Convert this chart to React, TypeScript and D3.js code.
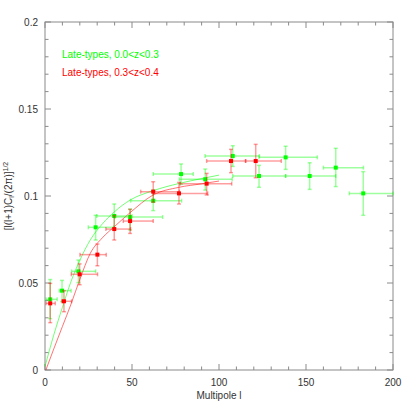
import * as d3 from "d3";
import React from "react";

// late-types 0.0<z<0.3 (green)
const greenL = [3.0, 9.8, 19.2, 29.1, 39.8, 48.9, 62.2, 78.2, 92.1, 107.9, 123, 138.3, 152.1, 167.1, 182.9];
const greenY = [0.0406, 0.0456, 0.0567, 0.082, 0.0885, 0.0879, 0.0973, 0.1126, 0.1096, 0.123, 0.1115, 0.1222, 0.1115, 0.1163, 0.1015];
const greenLLo = [0.6, 8.2, 15.3, 24.9, 29.7, 40.2, 49.2, 62.2, 77.2, 92, 107.9, 123, 138.3, 160, 174.9];
const greenLHi = [7.0, 15, 29.1, 39.5, 50, 67.6, 78.5, 85.2, 107.6, 123.2, 138.3, 156.5, 167.1, 183, 200];
const greenYLo = [0.0295, 0.0393, 0.0502, 0.0747, 0.0814, 0.0805, 0.0916, 0.1067, 0.1034, 0.117, 0.105, 0.1153, 0.1038, 0.1054, 0.0889];
const greenYHi = [0.052, 0.0515, 0.0632, 0.0889, 0.0954, 0.0925, 0.1034, 0.1184, 0.1155, 0.1289, 0.1176, 0.1286, 0.1191, 0.1274, 0.114];

// late-types 0.3<z<0.4 (red)
const redL = [3.0, 10.9, 19.9, 30.1, 39.8, 48.9, 62.2, 77, 92.9, 106.9, 121.1];
const redY = [0.0383, 0.0395, 0.055, 0.0663, 0.081, 0.0856, 0.1025, 0.1015, 0.1071, 0.1201, 0.1201];
const redLLo = [0.6, 9.6, 15.1, 20.1, 35, 45, 55, 62.2, 77.6, 92.9, 115.3];
const redLHi = [5.9, 15.3, 30.2, 35.2, 49.2, 62.2, 77.2, 93.5, 107.3, 115.3, 135.8];
const redYLo = [0.0272, 0.0335, 0.049, 0.0599, 0.0747, 0.0785, 0.0964, 0.0954, 0.1006, 0.1134, 0.1105];
const redYHi = [0.0498, 0.0456, 0.061, 0.0724, 0.0887, 0.0923, 0.1082, 0.1078, 0.113, 0.1268, 0.1297];

// model curves
const greenCurveL = [0, 5, 10, 15, 20, 26, 33, 40, 49, 62, 77, 90, 100];
const greenCurveY = [0.002, 0.02, 0.036, 0.051, 0.063, 0.0747, 0.084, 0.091, 0.0977, 0.103, 0.1072, 0.11, 0.112];
const redCurveL = [0.5, 5, 10, 15, 20, 26, 33, 40, 49, 62, 77, 90, 100];
const redCurveY = [0, 0.012, 0.025, 0.038, 0.052, 0.067, 0.076, 0.0825, 0.0905, 0.1005, 0.105, 0.107, 0.1086];

const xTicks = [0, 50, 100, 150, 200];
const yTicks = [0, 0.05, 0.1, 0.15, 0.2];
const legendLabels = ["Late-types, 0.0<z<0.3", "Late-types, 0.3<z<0.4"];

const W = 415;
const H = 415;
const left = 45, right = 393, top = 22, bottom = 370;
const font = "'Liberation Sans', Arial, sans-serif";
const axisColor = "#8a8a8a";

function Series({ ls, ys, lLo, lHi, yLo, yHi, color, x, y }) {
  const cap = 2;
  return (
    <g>
      {ls.map((l, i) => (
        <g key={i} stroke={color} strokeOpacity={0.38} strokeWidth={1.5}>
          <line x1={x(lLo[i])} x2={x(lHi[i])} y1={y(ys[i])} y2={y(ys[i])} />
          <line x1={x(lLo[i])} x2={x(lLo[i])} y1={y(ys[i]) - cap} y2={y(ys[i]) + cap} />
          <line x1={x(lHi[i])} x2={x(lHi[i])} y1={y(ys[i]) - cap} y2={y(ys[i]) + cap} />
          <line x1={x(l)} x2={x(l)} y1={y(yLo[i])} y2={y(yHi[i])} />
          <line x1={x(l) - cap} x2={x(l) + cap} y1={y(yLo[i])} y2={y(yLo[i])} />
          <line x1={x(l) - cap} x2={x(l) + cap} y1={y(yHi[i])} y2={y(yHi[i])} />
        </g>
      ))}
      {ls.map((l, i) => (
        <rect key={"m" + i} x={x(l) - 2} y={y(ys[i]) - 2} width={4} height={4} fill={color} />
      ))}
    </g>
  );
}

export default function App() {
  const x = d3.scaleLinear().domain([0, 200]).range([left, right]);
  const y = d3.scaleLinear().domain([0, 0.2]).range([bottom, top]);

  const greenPath = d3
    .line<number>()
    .x((d) => x(d))
    .y((d, i) => y(greenCurveY[i]))
    .curve(d3.curveMonotoneX)(greenCurveL);
  const redPath = d3
    .line<number>()
    .x((d) => x(d))
    .y((d, i) => y(redCurveY[i]))
    .curve(d3.curveMonotoneX)(redCurveL);

  const xMinor = d3.range(0, 201, 10);
  const yMinor = d3.range(0, 0.2001, 0.01);

  return (
    <svg width={W} height={H} style={{ position: "absolute", left: 0, top: 0 }}>
      <rect width={W} height={H} fill="#fff" />
      <g stroke={axisColor} strokeWidth={1}>
        <rect x={left} y={top} width={right - left} height={bottom - top} fill="none" />
        {xMinor.map((t) => {
          const len = t % 50 === 0 ? 6 : 3.5;
          return (
            <g key={"x" + t}>
              <line x1={x(t)} x2={x(t)} y1={bottom} y2={bottom - len} />
              <line x1={x(t)} x2={x(t)} y1={top} y2={top + len} />
            </g>
          );
        })}
        {yMinor.map((t, i) => {
          const len = i % 5 === 0 ? 6 : 3.5;
          return (
            <g key={"y" + i}>
              <line x1={left} x2={left + len} y1={y(t)} y2={y(t)} />
              <line x1={right} x2={right - len} y1={y(t)} y2={y(t)} />
            </g>
          );
        })}
      </g>
      <g fontFamily={font} fontSize={10} fill="#333">
        {xTicks.map((t) => (
          <text key={t} x={x(t)} y={bottom + 16} textAnchor="middle">
            {t}
          </text>
        ))}
        {yTicks.map((t) => (
          <text key={t} x={left - 7} y={y(t) + 4} textAnchor="end">
            {String(t)}
          </text>
        ))}
        <text x={(left + right) / 2} y={bottom + 29} textAnchor="middle">
          Multipole l
        </text>
        <text transform={`translate(12,${(top + bottom) / 2}) rotate(-90)`} textAnchor="middle">
          [l(l+1)C
          <tspan fontSize={7} dy={2}>l</tspan>
          <tspan dy={-2}>/(2π)]</tspan>
          <tspan fontSize={7} dy={-4}>1/2</tspan>
        </text>
      </g>
      <path d={greenPath} fill="none" stroke="#00ff00" strokeOpacity={0.55} strokeWidth={1} />
      <path d={redPath} fill="none" stroke="#ff0000" strokeOpacity={0.55} strokeWidth={1} />
      <Series ls={greenL} ys={greenY} lLo={greenLLo} lHi={greenLHi} yLo={greenYLo} yHi={greenYHi} color="#00ff00" x={x} y={y} />
      <Series ls={redL} ys={redY} lLo={redLLo} lHi={redLHi} yLo={redYLo} yHi={redYHi} color="#ff0000" x={x} y={y} />
      <g fontFamily={font} fontSize={10}>
        <text x={62} y={58} fill="#00ff00">{legendLabels[0]}</text>
        <text x={62} y={76} fill="#ff0000">{legendLabels[1]}</text>
      </g>
    </svg>
  );
}
